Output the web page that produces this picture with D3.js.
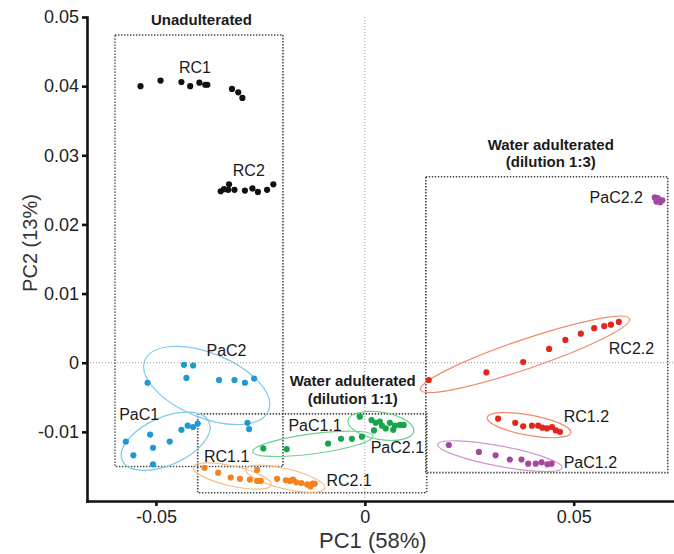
<!DOCTYPE html>
<html>
<head>
<meta charset="utf-8">
<script src="https://cdn.jsdelivr.net/npm/d3@7"></script>
<style>
  body { margin: 0; background: #fff; }
  svg { display: block; font-family: "Liberation Sans", Arial, sans-serif; }
</style>
</head>
<body>
<div id="chart"></div>
<script>
// ---- data (PC1, PC2) ----
const RC1 = [[-0.0537,0.0400],[-0.0489,0.0408],[-0.0439,0.0406],[-0.0418,0.0400],[-0.0396,0.0405],
  [-0.0382,0.0402],[-0.0377,0.0402],[-0.0318,0.0396],[-0.0303,0.0391],[-0.0293,0.0383]];
const RC2 = [[-0.0345,0.0248],[-0.0337,0.0251],[-0.0325,0.0258],[-0.0327,0.0250],[-0.0312,0.0250],
  [-0.0287,0.0249],[-0.0269,0.0252],[-0.0256,0.0247],[-0.0234,0.0250],[-0.0219,0.0258]];
const PaC1 = [[-0.0572,-0.0114],[-0.0554,-0.0134],[-0.0514,-0.0104],[-0.0507,-0.0123],[-0.0507,-0.0147],
  [-0.0467,-0.0114],[-0.0439,-0.0097],[-0.0424,-0.0091],[-0.0411,-0.0093],[-0.0400,-0.0088]];
const PaC2 = [[-0.0433,-0.0003],[-0.0411,-0.0004],[-0.0427,-0.0022],[-0.0520,-0.0029],[-0.0349,-0.0025],
  [-0.0312,-0.0025],[-0.0287,-0.0029],[-0.0265,-0.0023],[-0.0281,-0.0087],[-0.0277,-0.0096]];
const RC1_1 = [[-0.0384,-0.0152],[-0.0351,-0.0159],[-0.0321,-0.0166],[-0.0299,-0.0168],[-0.0275,-0.0169],
  [-0.0258,-0.0171],[-0.0249,-0.0171]];
const RC2_1 = [[-0.0258,-0.0155],[-0.0210,-0.0168],[-0.0189,-0.0170],[-0.0179,-0.0171],[-0.0172,-0.0169],
  [-0.0164,-0.0173],[-0.0152,-0.0174],[-0.0138,-0.0176],[-0.0125,-0.0175],[-0.0120,-0.0175],[-0.0130,-0.0179]];
const PaC1_1 = [[-0.0243,-0.0124],[-0.0187,-0.0125],[-0.0088,-0.0117],[-0.0057,-0.0110],[-0.0031,-0.0110],
  [-0.0007,-0.0107]];
const PaC2_1 = [[-0.0012,-0.0078],[0.0016,-0.0083],[0.0026,-0.0087],[0.0036,-0.0085],[0.0022,-0.0098],
  [0.0050,-0.0095],[0.0060,-0.0087],[0.0068,-0.0097],[0.0072,-0.0091],[0.0084,-0.0090],[0.0093,-0.0090],[0.0041,-0.0091]];
const RC2_2 = [[0.0153,-0.0025],[0.0291,-0.0014],[0.0379,0.0001],[0.0441,0.0020],[0.0480,0.0033],
  [0.0517,0.0042],[0.0549,0.0050],[0.0573,0.0053],[0.0589,0.0055],[0.0608,0.0059]];
const RC1_2 = [[0.0319,-0.0081],[0.0360,-0.0087],[0.0379,-0.0092],[0.0400,-0.0091],[0.0415,-0.0091],
  [0.0425,-0.0094],[0.0436,-0.0095],[0.0448,-0.0093],[0.0457,-0.0098],[0.0467,-0.0100]];
const PaC1_2 = [[0.0201,-0.0119],[0.0273,-0.0129],[0.0313,-0.0134],[0.0347,-0.0140],[0.0375,-0.0140],
  [0.0391,-0.0146],[0.0409,-0.0146],[0.0423,-0.0144],[0.0437,-0.0147],[0.0447,-0.0146]];
const PaC2_2 = [[0.0694,0.0239],[0.0702,0.0237],[0.0712,0.0235],[0.0698,0.0233],[0.0707,0.0232],[0.0701,0.0238]];

// group name, points, point colour, ellipse colour (null = no ellipse), label anchor (PC1, PC2)
const groups = [
  { name: "RC1",    pts: RC1,    color: "#111111", ell: null,      label: [-0.0445, 0.0419] },
  { name: "RC2",    pts: RC2,    color: "#111111", ell: null,      label: [-0.0316, 0.0270] },
  { name: "PaC1",   pts: PaC1,   color: "#1b9ad6", ell: "#7fcbec", label: [-0.0588, -0.0083] },
  { name: "PaC2",   pts: PaC2,   color: "#1b9ad6", ell: "#7fcbec", label: [-0.0379, 0.0010] },
  { name: "RC1.1",  pts: RC1_1,  color: "#f5821f", ell: "#f7bd82", label: [-0.0385, -0.0143] },
  { name: "RC2.1",  pts: RC2_1,  color: "#f5821f", ell: "#f7bd82", label: [-0.0092, -0.0178] },
  { name: "PaC1.1", pts: PaC1_1, color: "#16a54b", ell: "#6fd08e", label: [-0.0183, -0.0099] },
  { name: "PaC2.1", pts: PaC2_1, color: "#16a54b", ell: "#6fd08e", label: [0.0014, -0.0130] },
  { name: "RC2.2",  pts: RC2_2,  color: "#e3261c", ell: "#f08a6a", label: [0.0584, 0.0013] },
  { name: "RC1.2",  pts: RC1_2,  color: "#e3261c", ell: "#f08a6a", label: [0.0476, -0.0086] },
  { name: "PaC1.2", pts: PaC1_2, color: "#a6479e", ell: "#d595d2", label: [0.0476, -0.0152] },
  { name: "PaC2.2", pts: PaC2_2, color: "#a6479e", ell: null,      label: [0.0538, 0.0231] }
];

// dotted group boxes (PC1 range, PC2 range) and their titles
const boxes = [
  { x0: -0.0598, x1: -0.0196, y0: -0.0150, y1: 0.0474 },
  { x0: -0.0400, x1: 0.0148,  y0: -0.0188, y1: -0.0074 },
  { x0: 0.0146,  x1: 0.0725,  y0: -0.0159, y1: 0.0269 }
];
const boxTitles = [
  { lines: ["Unadulterated"], at: [-0.0391, 0.0488] },
  { lines: ["Water adulterated", "(dilution 1:1)"], at: [-0.0029, -0.0034] },
  { lines: ["Water adulterated", "(dilution 1:3)"], at: [0.0445, 0.0308] }
];

const xTicks = [-0.05, 0, 0.05];
const yTicks = [-0.01, 0, 0.01, 0.02, 0.03, 0.04, 0.05];

const width = 674, height = 554;

const svg = d3.select("#chart").append("svg")
    .attr("width", width)
    .attr("height", height);

const x = d3.scaleLinear().domain([-0.0665, 0.074]).range([87, 674]);
const y = d3.scaleLinear().domain([-0.02, 0.05]).range([501, 17]);

const fmt = d => d === 0 ? "0" : d.toFixed(2);

// zero reference lines
svg.append("line")
    .attr("x1", x(0)).attr("x2", x(0))
    .attr("y1", y(0.05)).attr("y2", y(-0.02))
    .attr("stroke", "#9a9a9a").attr("stroke-width", 1)
    .attr("stroke-dasharray", "1,2");
svg.append("line")
    .attr("x1", x(-0.0665)).attr("x2", x(0.074))
    .attr("y1", y(0)).attr("y2", y(0))
    .attr("stroke", "#9a9a9a").attr("stroke-width", 1)
    .attr("stroke-dasharray", "1,2");

// boxes
svg.append("g").selectAll("rect")
  .data(boxes)
  .join("rect")
    .attr("x", d => x(d.x0))
    .attr("y", d => y(d.y1))
    .attr("width", d => x(d.x1) - x(d.x0))
    .attr("height", d => y(d.y0) - y(d.y1))
    .attr("fill", "none")
    .attr("stroke", "#444")
    .attr("stroke-width", 1.6)
    .attr("stroke-dasharray", "1.4,1.6");

// ellipse around each group, computed from its points in pixel space
function fitEllipse(pts) {
  const p = pts.map(d => [x(d[0]), y(d[1])]);
  const mx = d3.mean(p, d => d[0]), my = d3.mean(p, d => d[1]);
  let sxx = 0, syy = 0, sxy = 0;
  p.forEach(d => {
    sxx += (d[0] - mx) ** 2; syy += (d[1] - my) ** 2; sxy += (d[0] - mx) * (d[1] - my);
  });
  const th = 0.5 * Math.atan2(2 * sxy, sxx - syy);
  const c = Math.cos(th), s = Math.sin(th);
  const u = p.map(d => (d[0] - mx) * c + (d[1] - my) * s);
  const v = p.map(d => -(d[0] - mx) * s + (d[1] - my) * c);
  const [u0, u1] = d3.extent(u), [v0, v1] = d3.extent(v);
  const um = (u0 + u1) / 2, vm = (v0 + v1) / 2;
  return {
    cx: mx + um * c - vm * s,
    cy: my + um * s + vm * c,
    rx: (u1 - u0) / 2 + 11,
    ry: Math.max((v1 - v0) / 2 + 8, 10),
    angle: th * 180 / Math.PI
  };
}

svg.append("g").selectAll("ellipse")
  .data(groups.filter(g => g.ell))
  .join("ellipse")
    .each(function(g) {
      const e = fitEllipse(g.pts);
      d3.select(this)
        .attr("cx", 0).attr("cy", 0)
        .attr("rx", e.rx).attr("ry", e.ry)
        .attr("transform", `translate(${e.cx},${e.cy}) rotate(${e.angle})`);
    })
    .attr("fill", "none")
    .attr("stroke", g => g.ell)
    .attr("stroke-width", 1.2);

// points
svg.append("g")
  .selectAll("g")
  .data(groups)
  .join("g")
    .attr("fill", g => g.color)
  .selectAll("circle")
  .data(g => g.pts)
  .join("circle")
    .attr("cx", d => x(d[0]))
    .attr("cy", d => y(d[1]))
    .attr("r", 3.1);

// group labels
svg.append("g").selectAll("text")
  .data(groups)
  .join("text")
    .attr("x", g => x(g.label[0]))
    .attr("y", g => y(g.label[1]))
    .attr("font-size", 16)
    .attr("fill", "#1a1a1a")
    .text(g => g.name);

// box titles
svg.append("g").selectAll("text")
  .data(boxTitles)
  .join("text")
    .attr("x", d => x(d.at[0]))
    .attr("y", d => y(d.at[1]))
    .attr("text-anchor", "middle")
    .attr("font-size", 15)
    .attr("font-weight", "bold")
    .attr("fill", "#1a1a1a")
  .selectAll("tspan")
  .data(d => d.lines)
  .join("tspan")
    .attr("x", function() { return this.parentNode.getAttribute("x"); })
    .attr("dy", (d, i) => i === 0 ? 0 : 17.5)
    .text(d => d);

// axes
const yAxis = svg.append("g")
    .attr("transform", `translate(${x(-0.0665)},0)`)
    .call(d3.axisLeft(y).tickValues(yTicks).tickFormat(fmt).tickSize(5).tickSizeOuter(0).tickPadding(3));
const xAxis = svg.append("g")
    .attr("transform", `translate(0,${y(-0.02)})`)
    .call(d3.axisBottom(x).tickValues(xTicks).tickFormat(fmt).tickSize(5).tickSizeOuter(0).tickPadding(4));

[xAxis, yAxis].forEach(a => {
  a.select(".domain").attr("stroke", "#111").attr("stroke-width", 2.6).attr("stroke-linecap", "square");
  a.selectAll(".tick line").attr("stroke", "#111").attr("stroke-width", 2.6);
  a.selectAll(".tick text").attr("font-size", 18).attr("fill", "#222")
    .attr("font-family", "'Liberation Sans', Arial, sans-serif");
});

// axis titles
svg.append("text")
    .attr("x", x(0) + 8)
    .attr("y", 548)
    .attr("text-anchor", "middle")
    .attr("font-size", 22)
    .attr("fill", "#333")
    .text("PC1 (58%)");

svg.append("text")
    .attr("transform", "translate(37,243) rotate(-90)")
    .attr("text-anchor", "middle")
    .attr("font-size", 20)
    .attr("fill", "#333")
    .text("PC2 (13%)");
</script>
</body>
</html>
